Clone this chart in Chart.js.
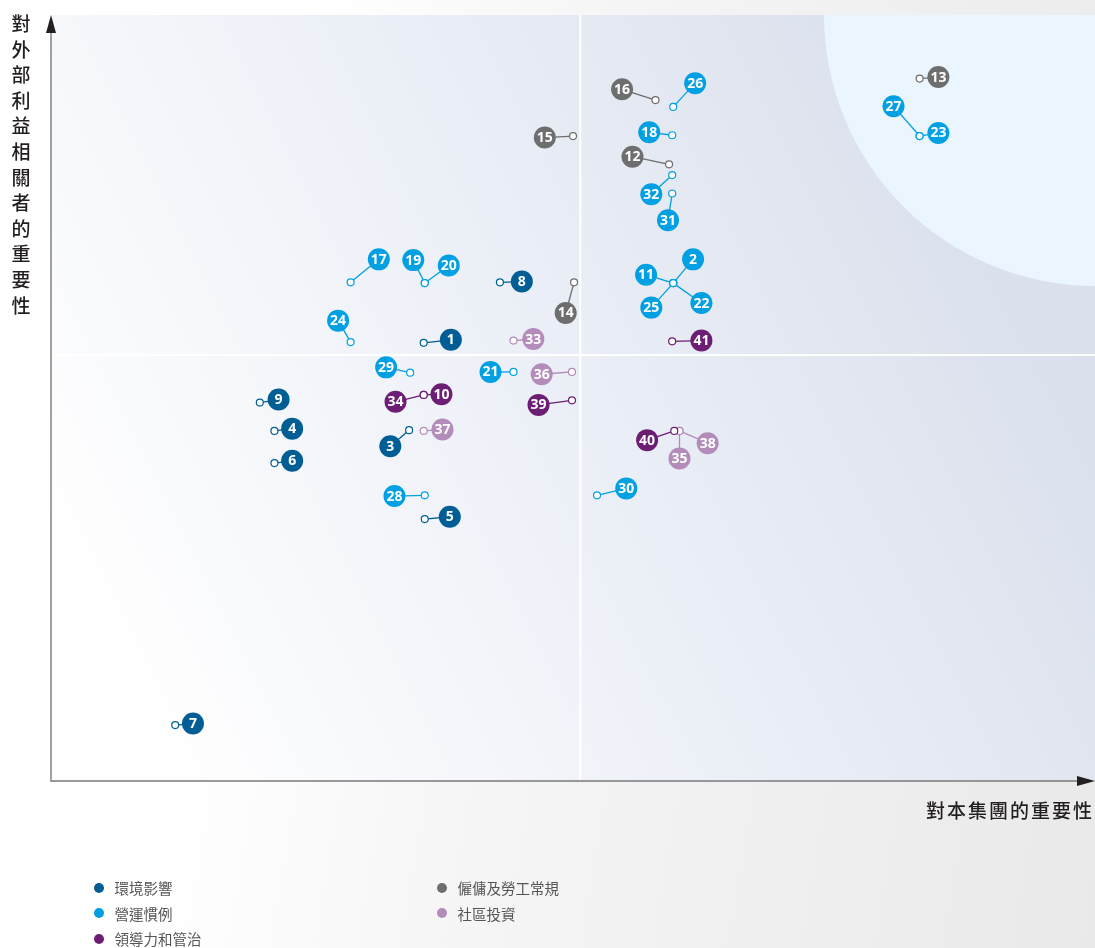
<!DOCTYPE html>
<html lang="zh-Hant">
<head>
<meta charset="utf-8">
<title>重要性矩陣</title>
<script src="https://cdn.jsdelivr.net/npm/chart.js@4.4.1/dist/chart.umd.min.js"></script>
<style>
  html, body { margin: 0; padding: 0; overflow: hidden; }
  body {
    width: 1095px; height: 948px;
    background: linear-gradient(100deg, #ffffff 25%, #f5f5f5 50%, #eeeeee 80%, #e9e9e9 100%);
    font-family: "Noto Sans CJK TC", "Noto Sans", sans-serif;
  }
  #wrap { position: relative; width: 1095px; height: 948px; }
  #matrix { position: absolute; left: 0; top: 0; width: 1095px; height: 948px; }
  .y-title {
    position: absolute; left: 11px; top: 10px; width: 20px;
    font-size: 19px; line-height: 25.6px; font-weight: 500; color: #231f20;
    text-align: center; word-break: break-all;
  }
  .x-title {
    position: absolute; right: 1px; top: 797px;
    font-size: 19px; line-height: 26px; letter-spacing: 2px; font-weight: 500; color: #231f20;
  }
  .legend-col { position: absolute; top: 875px; }
  .legend-item { height: 25.5px; display: flex; align-items: center; font-size: 14.5px; color: #555; }
  .legend-dot { width: 10px; height: 10px; border-radius: 50%; margin-right: 10.5px; }
</style>
</head>
<body>
<div id="wrap">
  <canvas id="matrix" width="1095" height="948"></canvas>
  <div class="y-title">對外部利益相關者的重要性</div>
  <div class="x-title">對本集團的重要性</div>
  <div class="legend-col" id="legend-left" style="left:94px"></div>
  <div class="legend-col" id="legend-right" style="left:437px"></div>
</div>
<script>
// ── Data ──
const categories     = ["環境影響", "營運慣例", "領導力和管治", "僱傭及勞工常規", "社區投資"];
const categoryColors = ["#005e95", "#00a0e3", "#6b1e74", "#6e6e6e", "#b38cba"];

const issueIds = [
   1,  2,  3,  4,  5,  6,  7,  8,  9, 10,
  11, 12, 13, 14, 15, 16, 17, 18, 19, 20,
  21, 22, 23, 24, 25, 26, 27, 28, 29, 30,
  31, 32, 33, 34, 35, 36, 37, 38, 39, 40, 41
];
const issueCategory = [
  0, 1, 0, 0, 0, 0, 0, 0, 0, 2,
  1, 3, 3, 3, 3, 3, 1, 1, 1, 1,
  1, 1, 1, 1, 1, 1, 1, 1, 1, 1,
  1, 1, 4, 2, 4, 4, 4, 4, 2, 2, 2
];
// importance to the group (x) and to external stakeholders (y), 0–100
const groupImportance = [
  35.7, 59.6, 34.3, 21.4, 35.8, 21.4, 11.9, 43.0, 20.0, 35.7,
  59.6, 59.2, 83.2, 50.1, 50.0, 57.9, 28.7, 59.5, 35.8, 35.8,
  44.3, 59.6, 83.2, 28.7, 59.6, 59.6, 83.2, 35.8, 34.4, 52.3,
  59.5, 59.5, 44.3, 35.7, 60.2, 49.9, 35.7, 60.2, 49.9, 59.7, 59.5
];
const stakeholderImportance = [
  57.2, 65.0, 45.8, 45.7, 34.2, 41.5,  7.3, 65.1, 49.4, 50.4,
  65.0, 80.5, 91.7, 65.1, 84.2, 88.9, 65.1, 84.3, 65.0, 65.0,
  53.4, 65.0, 84.2, 57.3, 65.0, 88.0, 84.2, 37.3, 53.3, 37.3,
  76.7, 79.1, 57.5, 50.4, 45.7, 53.4, 45.7, 45.7, 49.7, 45.7, 57.4
];
// where each numbered badge sits, same units
const labelX = [
  38.3, 61.5, 32.5, 23.1, 38.2, 23.1, 13.6, 45.1, 21.8, 37.4,
  57.0, 55.7, 85.0, 49.3, 47.3, 54.7, 31.4, 57.3, 34.7, 38.1,
  42.1, 62.3, 85.0, 27.5, 57.5, 61.7, 80.7, 32.9, 32.1, 55.1,
  59.1, 57.5, 46.2, 33.0, 60.2, 47.0, 37.5, 62.9, 46.7, 57.1, 62.3
];
const labelY = [
  57.6, 68.1, 43.7, 46.0, 34.5, 41.8,  7.5, 65.2, 49.8, 50.5,
  66.1, 81.5, 91.9, 61.1, 84.0, 90.3, 68.1, 84.7, 68.0, 67.3,
  53.4, 62.4, 84.6, 60.1, 61.8, 91.1, 88.1, 37.2, 54.0, 38.2,
  73.2, 76.6, 57.7, 49.5, 42.1, 53.1, 45.9, 44.1, 49.1, 44.5, 57.5
];
const QUADRANT_X = 50.7;
const QUADRANT_Y = 55.6;

// ── Datasets ──
const datasets = [];

// leader lines
issueIds.forEach((id, i) => {
  datasets.push({
    type: "line",
    data: [{ x: groupImportance[i], y: stakeholderImportance[i] }, { x: labelX[i], y: labelY[i] }],
    borderColor: categoryColors[issueCategory[i]],
    borderWidth: 1.3,
    pointRadius: 0,
    order: 3,
  });
});

categories.forEach((cat, c) => {
  const idx = issueIds.map((_, i) => i).filter(i => issueCategory[i] === c);
  // open circles at the actual position
  datasets.push({
    type: "scatter",
    label: cat,
    data: idx.map(i => ({ x: groupImportance[i], y: stakeholderImportance[i] })),
    pointRadius: 3.5,
    pointBackgroundColor: "#ffffff",
    pointBorderColor: categoryColors[c],
    pointBorderWidth: 1.2,
    order: 2,
  });
  // numbered badges
  datasets.push({
    type: "scatter",
    label: cat,
    isBadge: true,
    ids: idx.map(i => issueIds[i]),
    data: idx.map(i => ({ x: labelX[i], y: labelY[i] })),
    pointRadius: 11,
    pointBackgroundColor: categoryColors[c],
    pointBorderWidth: 0,
    order: 1,
  });
});

// ── Plugins ──
const backdrop = {
  id: "backdrop",
  beforeDatasetsDraw(chart) {
    const { ctx, chartArea: a, scales: { x, y } } = chart;
    ctx.save();
    const g = ctx.createLinearGradient(
      a.left + a.width * 0.05, a.top + a.height * 0.83,
      a.left + a.width * 0.91, a.top + a.height * 0.24);
    g.addColorStop(0, "#ffffff");
    g.addColorStop(0.45, "#eef1f8");
    g.addColorStop(1, "#dae0ec");
    ctx.fillStyle = g;
    ctx.fillRect(a.left, a.top, a.width, a.height);

    ctx.beginPath();
    ctx.rect(a.left, a.top, a.width, a.height);
    ctx.clip();
    ctx.beginPath();
    ctx.arc(a.right, a.top, 271, 0, Math.PI * 2);
    ctx.fillStyle = "#eaf5fd";
    ctx.fill();

    // quadrant lines
    const qx = x.getPixelForValue(QUADRANT_X);
    const qy = y.getPixelForValue(QUADRANT_Y);
    ctx.strokeStyle = "#ffffff";
    ctx.lineWidth = 2;
    ctx.beginPath();
    ctx.moveTo(qx, a.top); ctx.lineTo(qx, a.bottom);
    ctx.moveTo(a.left, qy); ctx.lineTo(a.right, qy);
    ctx.stroke();
    ctx.restore();

    // axes with arrows
    ctx.save();
    ctx.strokeStyle = "#7a7a7a";
    ctx.lineWidth = 1.4;
    ctx.beginPath();
    ctx.moveTo(a.left, a.top + 16); ctx.lineTo(a.left, a.bottom);
    ctx.lineTo(a.right - 16, a.bottom);
    ctx.stroke();
    ctx.fillStyle = "#231f20";
    ctx.beginPath();
    ctx.moveTo(a.left, a.top); ctx.lineTo(a.left - 5, a.top + 18); ctx.lineTo(a.left + 5, a.top + 18);
    ctx.closePath(); ctx.fill();
    ctx.beginPath();
    ctx.moveTo(a.right, a.bottom); ctx.lineTo(a.right - 18, a.bottom - 5); ctx.lineTo(a.right - 18, a.bottom + 5);
    ctx.closePath(); ctx.fill();
    ctx.restore();
  },
};

const badgeText = {
  id: "badgeText",
  afterDatasetsDraw(chart) {
    const { ctx } = chart;
    ctx.save();
    ctx.fillStyle = "#ffffff";
    ctx.font = "bold 14px 'Open Sans', sans-serif";
    ctx.textAlign = "center";
    ctx.textBaseline = "middle";
    chart.data.datasets.forEach((ds, i) => {
      if (!ds.isBadge) return;
      chart.getDatasetMeta(i).data.forEach((pt, j) => {
        ctx.fillText(String(ds.ids[j]), pt.x, pt.y + 0.5);
      });
    });
    ctx.restore();
  },
};

new Chart(document.getElementById("matrix"), {
  data: { datasets },
  options: {
    responsive: false,
    animation: false,
    layout: { autoPadding: false, padding: { left: 51, top: 15, right: 0, bottom: 167 } },
    scales: {
      x: { type: "linear", min: 0, max: 100, display: false },
      y: { type: "linear", min: 0, max: 100, display: false },
    },
    plugins: { legend: { display: false }, tooltip: { enabled: false } },
    events: [],
  },
  plugins: [backdrop, badgeText],
});

// ── Legend ──
function legendItem(c) {
  return `<div class="legend-item"><span class="legend-dot" style="background:${categoryColors[c]}"></span>${categories[c]}</div>`;
}
document.getElementById("legend-left").innerHTML  = [0, 1, 2].map(legendItem).join("");
document.getElementById("legend-right").innerHTML = [3, 4].map(legendItem).join("");
</script>
</body>
</html>
